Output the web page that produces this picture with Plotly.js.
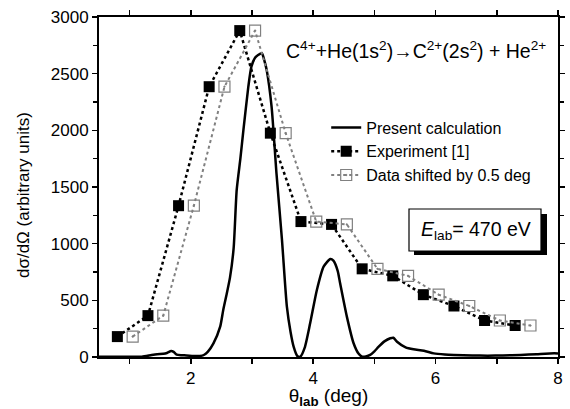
<!DOCTYPE html>
<html>
<head>
<meta charset="utf-8">
<script src="https://cdn.plot.ly/plotly-3.0.1.min.js"></script>
<style>html,body{margin:0;padding:0;background:#fff;}#chart{width:570px;height:409px;}</style>
</head>
<body>
<div id="chart"></div>
<script>
// Present calculation (theory curve)
const calcTheta = [0.5, 0.8, 1.0, 1.2, 1.36, 1.45, 1.55, 1.61, 1.68, 1.72, 1.77, 1.85, 1.93, 2.04, 2.15, 2.22, 2.28, 2.37, 2.48, 2.53, 2.58, 2.64, 2.70, 2.75, 2.81, 2.86, 2.94, 2.99, 3.05, 3.10, 3.16, 3.20, 3.24, 3.32, 3.40, 3.49, 3.57, 3.63, 3.68, 3.74, 3.79, 3.86, 3.95, 4.06, 4.17, 4.28, 4.33, 4.40, 4.44, 4.55, 4.66, 4.74, 4.80, 4.86, 4.93, 5.00, 5.07, 5.17, 5.26, 5.31, 5.37, 5.51, 5.64, 5.81, 5.97, 6.15, 6.30, 6.60, 6.85, 7.10, 7.39, 7.65, 7.94, 8.0];
const calcValue = [3, 3, 3, 3, 18, 25, 28, 35, 53, 45, 20, 15, 14, 9, 9, 20, 47, 120, 268, 415, 540, 700, 960, 1474, 1750, 2003, 2385, 2562, 2640, 2665, 2680, 2620, 2532, 2209, 1621, 1032, 444, 220, 91, 9, 3, 80, 297, 591, 797, 865, 850, 760, 650, 356, 121, 30, 3, 5, 18, 50, 91, 140, 165, 170, 135, 85, 68, 56, 32, 22, 18, 14, 12, 14, 18, 25, 32, 30];

// Experiment [1]
const expTheta = [0.8, 1.3, 1.8, 2.3, 2.8, 3.3, 3.8, 4.3, 4.8, 5.3, 5.8, 6.3, 6.8, 7.3];
const expValue = [180, 365, 1335, 2385, 2880, 1975, 1195, 1170, 778, 716, 550, 450, 322, 278];

// Data shifted (plotted positions)
const shiftedTheta = [1.05, 1.55, 2.05, 2.55, 3.05, 3.55, 4.05, 4.55, 5.05, 5.55, 6.05, 6.55, 7.05, 7.55];
const shiftedValue = expValue.slice();

const traces = [
  {x: calcTheta, y: calcValue, mode: 'lines', name: 'Present calculation',
   line: {color: '#000', width: 2.5, shape: 'spline', smoothing: 0.6}},
  {x: expTheta, y: expValue, mode: 'lines+markers', name: 'Experiment [1]',
   line: {color: '#000', width: 2.5, dash: 'dot'},
   marker: {symbol: 'square', size: 11, color: '#000'}},
  {x: shiftedTheta, y: shiftedValue, mode: 'lines+markers', name: 'Data shifted by 0.5 deg',
   line: {color: '#808080', width: 2, dash: 'dot'},
   marker: {symbol: 'square-open-dot', size: 11, color: '#808080', line: {width: 1.2, color: '#808080'}}}
];

const axisCommon = {
  showline: true, linecolor: '#000', linewidth: 2, mirror: 'ticks',
  ticks: 'outside', ticklen: 5, tickwidth: 1.5, tickcolor: '#000',
  showgrid: false, zeroline: false,
  tickfont: {family: 'Arial, Liberation Sans, sans-serif', size: 17, color: '#000'}
};

const layout = {
  width: 570, height: 409,
  margin: {l: 99, r: 12, t: 17, b: 52},
  paper_bgcolor: '#fff', plot_bgcolor: '#fff',
  font: {family: 'Arial, Liberation Sans, sans-serif', color: '#000'},
  showlegend: true,
  legend: {x: 0.495, y: 0.725, xanchor: 'left', yanchor: 'top',
           bgcolor: 'rgba(0,0,0,0)', borderwidth: 0,
           font: {size: 16, color: '#000'}, tracegroupgap: 0, itemwidth: 30},
  xaxis: Object.assign({}, axisCommon, {
    range: [0.5, 8], tickvals: [2, 4, 6, 8],
    minor: {tickvals: [1, 3, 5, 7], ticks: 'outside', ticklen: 5, tickwidth: 1.5, tickcolor: '#000'},
    title: {text: 'θ<sub><b>lab</b></sub> (deg)', font: {size: 19}, standoff: 0}
  }),
  yaxis: Object.assign({}, axisCommon, {
    range: [0, 3000], tickvals: [0, 500, 1000, 1500, 2000, 2500, 3000],
    minor: {dtick: 250, ticks: 'outside', ticklen: 4, tickwidth: 1.5, tickcolor: '#000'}
  }),
  shapes: [
    {type: 'rect', xref: 'paper', yref: 'paper',
     x0: (414-99)/459, x1: (547-99)/459, y0: (357-255)/340, y1: (357-214)/340,
     fillcolor: '#000', line: {width: 0}, layer: 'above'},
    {type: 'rect', xref: 'paper', yref: 'paper',
     x0: (409-99)/459, x1: (541-99)/459, y0: (357-251)/340, y1: (357-209)/340,
     fillcolor: '#fff', line: {width: 1.2, color: '#000'}, layer: 'above'}
  ],
  annotations: [
    {xref: 'paper', yref: 'paper', x: (23-99)/459, y: (357-195)/340, xanchor: 'center', yanchor: 'middle',
     textangle: -90, showarrow: false, font: {size: 17, color: '#000'},
     text: 'dσ/dΩ (arbitrary units)'},
    {xref: 'paper', yref: 'paper', x: (416-99)/459, y: (357-50)/340, xanchor: 'center', yanchor: 'middle',
     showarrow: false, font: {size: 19.5, color: '#000'},
     text: 'C<sup>4+</sup>+He(1s<sup>2</sup>)→C<sup>2+</sup>(2s<sup>2</sup>) + He<sup>2+</sup>'},
    {xref: 'paper', yref: 'paper', x: (476-99)/459, y: (357-230)/340, xanchor: 'center', yanchor: 'middle',
     showarrow: false, font: {size: 19.5, color: '#000'},
     text: '<i>E</i><sub>lab</sub>= 470 eV'}
  ]
};

Plotly.newPlot('chart', traces, layout, {displayModeBar: false, staticPlot: true});
</script>
</body>
</html>
